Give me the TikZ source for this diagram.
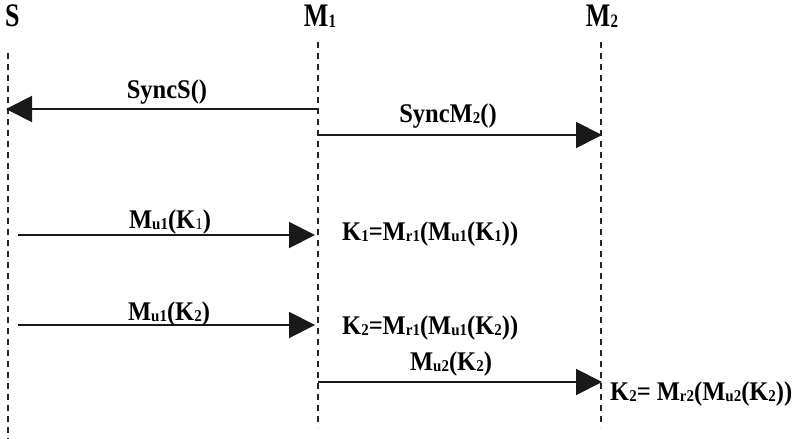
\documentclass[tikz,border=0pt]{standalone}
\usepackage{fontspec}
\setmainfont{Liberation Serif}
\usetikzlibrary{arrows.meta}
\newcommand{\lsub}[1]{\raisebox{-0.06em}{\fontsize{15}{16}\selectfont #1}}
\tikzset{
  life/.style={draw=black!85, line width=1.1pt, dash pattern=on 6pt off 5pt},
  msg/.style={draw=black!90, line width=2pt, -{Triangle[length=26pt,width=26pt]}},
  lbl/.style={font=\fontsize{24.5}{27}\selectfont\bfseries, inner sep=0pt, anchor=base, yscale=1.1},
  head/.style={lbl, font=\fontsize{26}{28}\selectfont\bfseries, yscale=1.15},
  eq/.style={lbl, anchor=base west},
}
\begin{document}
\begin{tikzpicture}[x=1pt,y=-1pt]
\useasboundingbox (0,0) rectangle (806,439);
% heads
\node[head, anchor=base west] (hS) at (5,26) {S};
\node[head] (hM1) at (320,26) {M\lsub{1}};
\node[head] (hM2) at (602,26) {M\lsub{2}};
% lifelines
\coordinate (sTop) at (8,53);
\coordinate (sBot) at (8,439);
\coordinate (m1Top) at (318,42);
\coordinate (m1Bot) at (318,427);
\coordinate (m2Top) at (601,42);
\coordinate (m2Bot) at (601,427);
\draw[life] (sTop) -- (sBot);
\draw[life] (m1Top) -- (m1Bot);
\draw[life] (m2Top) -- (m2Bot);
% messages
\coordinate (a1s) at (317,109); \coordinate (a1e) at (6,109);
\draw[msg] (a1s) -- (a1e);
\node[lbl] (l1) at (167,98) {SyncS()};
\coordinate (a2s) at (318,135); \coordinate (a2e) at (602,135);
\draw[msg] (a2s) -- (a2e);
\node[lbl] (l2) at (448,122) {SyncM\lsub{2}()};
\coordinate (a3s) at (18,235); \coordinate (a3e) at (315,235);
\draw[msg] (a3s) -- (a3e);
\node[lbl] (l3) at (170,228) {M\lsub{u1}(K\lsub{\mdseries 1})};
\node[eq] (e1) at (342,240) {K\lsub{1}=M\lsub{r1}(M\lsub{u1}(K\lsub{1}))};
\coordinate (a4s) at (18,325); \coordinate (a4e) at (315,325);
\draw[msg] (a4s) -- (a4e);
\node[lbl] (l4) at (169,320) {M\lsub{u1}(K\lsub{2})};
\node[eq] (e2) at (342,334) {K\lsub{2}=M\lsub{r1}(M\lsub{u1}(K\lsub{2}))};
\coordinate (a5s) at (318,382); \coordinate (a5e) at (602,382);
\draw[msg] (a5s) -- (a5e);
\node[lbl] (l5) at (451,370) {M\lsub{u2}(K\lsub{2})};
\node[eq] (e3) at (610,400) {K\lsub{2}= M\lsub{r2}(M\lsub{u2}(K\lsub{2}))};
\end{tikzpicture}
\end{document}
